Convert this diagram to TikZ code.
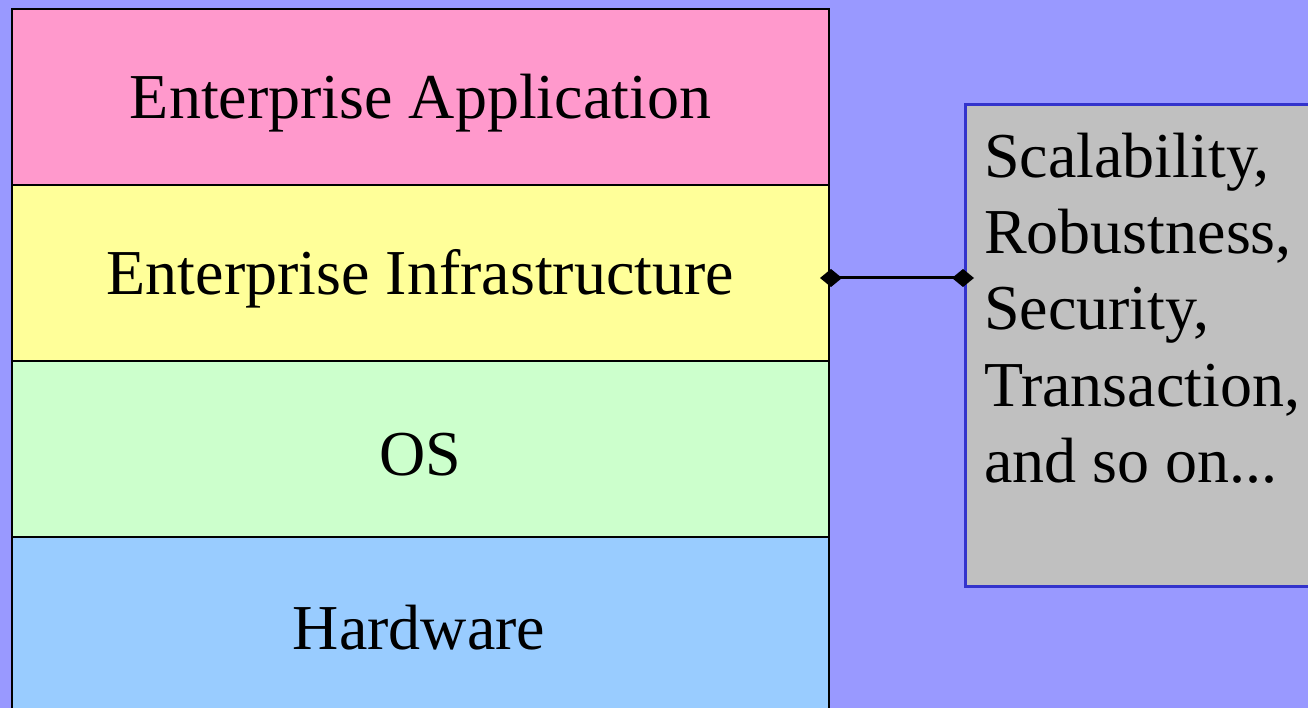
\documentclass[tikz,border=0pt]{standalone}
\usepackage{fontspec}
\setmainfont{Liberation Serif}
\usetikzlibrary{arrows.meta}
\definecolor{bgc}{HTML}{9999FF}
\definecolor{pinkc}{HTML}{FF99CC}
\definecolor{yellowc}{HTML}{FFFF99}
\definecolor{greenc}{HTML}{CCFFCC}
\definecolor{bluec}{HTML}{99CCFF}
\definecolor{grayc}{HTML}{C0C0C0}
\definecolor{edgec}{HTML}{3333CC}
\begin{document}
\begin{tikzpicture}[x=1pt,y=-1pt,
  layer/.style={draw=black,line width=2pt,minimum width=817pt,minimum height=176pt,inner sep=0pt,anchor=north west},
  ltext/.style={label={[font=\fontsize{64}{76}\selectfont,yshift=-6pt]center:#1}},
  boxtext/.style={font=\fontsize{64}{76}\selectfont,anchor=base west,inner sep=0pt},
  link/.style={line width=3pt,{Diamond[length=22pt,width=18pt]}-{Diamond[length=22pt,width=18pt]},shorten <=-10pt,shorten >=-10pt}]
\fill[bgc] (0,0) rectangle (1308,708);
\useasboundingbox (0,0) rectangle (1308,708);
\node[layer,fill=pinkc,ltext={Enterprise Application}] (app) at (11,8) {};
\node[layer,fill=yellowc,ltext={Enterprise Infrastructure}] (infra) at (11,184) {};
\node[layer,fill=greenc,ltext={OS}] (os) at (11,360) {};
\node[layer,fill=bluec,minimum height=190pt] (hw) at (11,536) {};
\node[font=\fontsize{64}{76}\selectfont] (hwt) at (419,628) {Hardware};
\node[draw=edgec,fill=grayc,line width=3pt,minimum width=380pt,minimum height=482pt,anchor=north west,inner sep=0pt] (qual) at (964,103) {};
\node[boxtext] (l1) at (984,178) {Scalability,};
\node[boxtext] (l2) at (984,254) {Robustness,};
\node[boxtext] (l3) at (984,330) {Security,};
\node[boxtext] (l4) at (984,406) {Transaction,};
\node[boxtext] (l5) at (984,482) {and so on...};
\coordinate (a) at (infra.east |- 0,278);
\coordinate (b) at (qual.west |- 0,278);
\draw[link] (a) -- (b);
\end{tikzpicture}
\end{document}
